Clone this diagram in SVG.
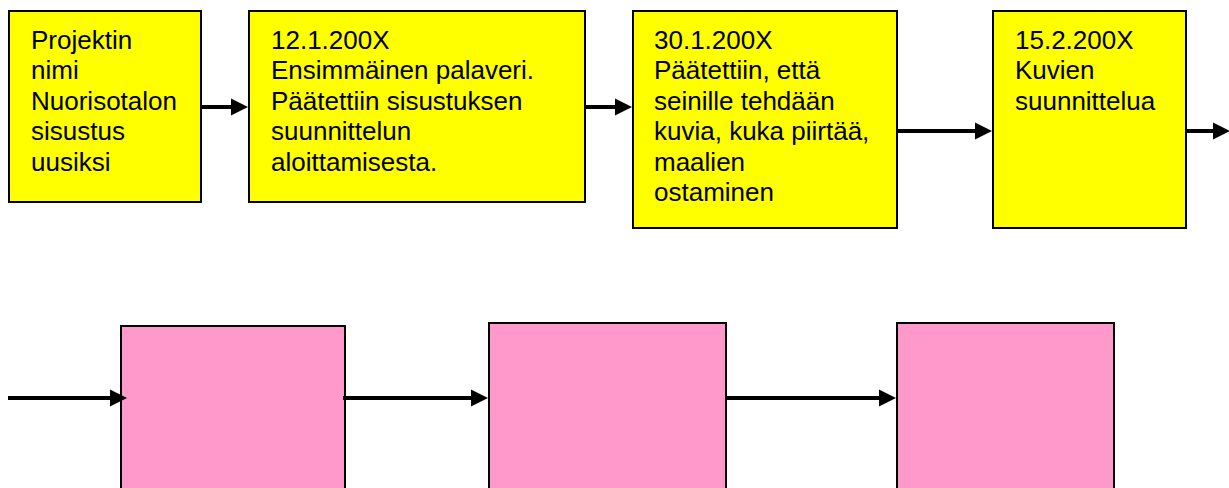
<svg xmlns="http://www.w3.org/2000/svg" width="1229" height="488" viewBox="0 0 1229 488">
<style>
.y{fill:#ffff00;stroke:#000;stroke-width:2}
.p{fill:#ff99cc;stroke:#000;stroke-width:2}
.t{font-family:"Liberation Sans",Arial,sans-serif;font-size:26px;fill:#000}
.c{stroke:#000;stroke-width:4;fill:none;marker-end:url(#ah)}
</style>
<defs>
<marker id="ah" markerUnits="userSpaceOnUse" markerWidth="18" markerHeight="18" refX="1" refY="9" orient="auto">
<path d="M0,0.5 L17,9 L0,17.5 Z" fill="#000"/>
</marker>
</defs>
<rect width="1229" height="488" fill="#fff"/>
<g id="n1"><rect class="y" x="9" y="11" width="192" height="191"/>
<text class="t" x="31" y="49"><tspan x="31">Projektin</tspan><tspan x="31" dy="30.4">nimi</tspan><tspan x="31" dy="30.4">Nuorisotalon</tspan><tspan x="31" dy="30.4">sisustus</tspan><tspan x="31" dy="30.4">uusiksi</tspan></text></g>
<g id="n2"><rect class="y" x="249" y="11" width="336" height="191"/>
<text class="t" x="271" y="49"><tspan x="271">12.1.200X</tspan><tspan x="271" dy="30.4">Ensimmäinen palaveri.</tspan><tspan x="271" dy="30.4">Päätettiin sisustuksen</tspan><tspan x="271" dy="30.4">suunnittelun</tspan><tspan x="271" dy="30.4">aloittamisesta.</tspan></text></g>
<g id="n3"><rect class="y" x="633" y="11" width="264" height="217"/>
<text class="t" x="654" y="49"><tspan x="654">30.1.200X</tspan><tspan x="654" dy="30.4">Päätettiin, että</tspan><tspan x="654" dy="30.4">seinille tehdään</tspan><tspan x="654" dy="30.4">kuvia, kuka piirtää,</tspan><tspan x="654" dy="30.4">maalien</tspan><tspan x="654" dy="30.4">ostaminen</tspan></text></g>
<g id="n4"><rect class="y" x="993" y="11" width="193" height="217"/>
<text class="t" x="1015" y="49"><tspan x="1015">15.2.200X</tspan><tspan x="1015" dy="30.4">Kuvien</tspan><tspan x="1015" dy="30.4">suunnittelua</tspan></text></g>
<g id="n5"><rect class="p" x="121" y="326" width="224" height="170"/></g>
<g id="n6"><rect class="p" x="489" y="323" width="237" height="173"/></g>
<g id="n7"><rect class="p" x="897" y="323" width="217" height="173"/></g>
<g id="connectors">
<line class="c" x1="201" y1="107" x2="232" y2="107"/>
<line class="c" x1="585" y1="107" x2="616" y2="107"/>
<line class="c" x1="897" y1="131" x2="976" y2="131"/>
<line class="c" x1="1186" y1="131" x2="1214" y2="131"/>
<line class="c" x1="8" y1="398" x2="111" y2="398"/>
<line class="c" x1="343" y1="398" x2="472" y2="398"/>
<line class="c" x1="726" y1="398" x2="880" y2="398"/>
</g>
</svg>
